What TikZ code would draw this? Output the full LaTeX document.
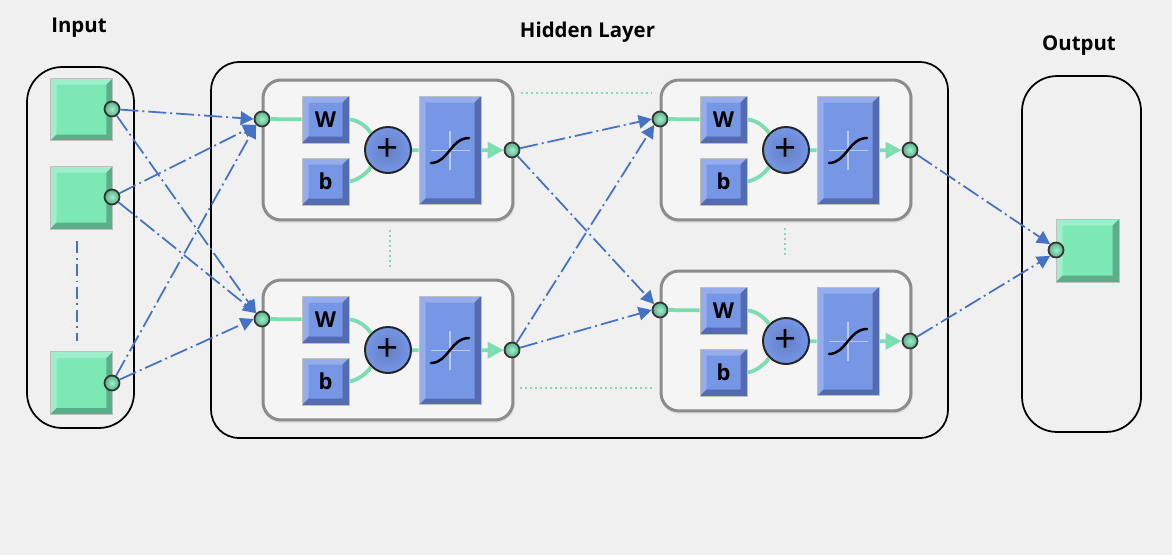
\documentclass[tikz,border=0pt]{standalone}
\usepackage{fontspec}
\setmainfont{Open Sans}
\usetikzlibrary{arrows.meta,shapes.geometric}
\definecolor{bgcol}{HTML}{F0F0F0}
\definecolor{blockcol}{HTML}{F5F5F5}
\definecolor{greenface}{HTML}{7BE8B5}
\definecolor{greenlight}{HTML}{9DF0CB}
\definecolor{greendark}{HTML}{5DAE88}
\definecolor{blueface}{HTML}{7696E6}
\definecolor{bluelight}{HTML}{95ADED}
\definecolor{bluedark}{HTML}{546BB0}
\definecolor{arrowcol}{HTML}{4472C4}
\definecolor{wirecol}{HTML}{7DDDB0}
\tikzset{
  bevelbox/.style n args={4}{inner sep=0pt,draw=black!25,line width=0.02cm,fill=#1,
    path picture={
      \fill[#2] (path picture bounding box.north west) -- (path picture bounding box.north east)
        -- ++(-#4,-#4) -- ([shift={(#4,-#4)}]path picture bounding box.north west)
        -- ([shift={(#4,#4)}]path picture bounding box.south west)
        -- (path picture bounding box.south west) -- cycle;
      \fill[#3] (path picture bounding box.south west) -- (path picture bounding box.south east)
        -- (path picture bounding box.north east)
        -- ++(-#4,-#4) -- ([shift={(-#4,#4)}]path picture bounding box.south east)
        -- ([shift={(#4,#4)}]path picture bounding box.south west) -- cycle;
    }},
  greenbox/.style={bevelbox={greenface}{greenlight}{greendark}{0.13cm},minimum size=1.26cm},
  weightbox/.style={bevelbox={blueface}{bluelight}{bluedark}{0.13cm},minimum size=0.94cm,font=\bfseries\fontsize{12.5}{12.5}\selectfont},
  transferbox/.style={bevelbox={blueface}{bluelight}{bluedark}{0.13cm},minimum width=1.24cm,minimum height=2.18cm},
  sumnode/.style={circle,draw=black!85,line width=0.04cm,inner sep=0pt,minimum size=0.92cm,
    inner color=blueface!85!black,outer color=blueface,font=\fontsize{22}{22}\selectfont},
  port/.style={circle,draw=black!80,line width=0.035cm,inner sep=0pt,minimum size=0.3cm,
    inner color=greenlight,outer color=greendark},
  container/.style={draw=black,line width=0.035cm,rounded corners=0.7cm,inner sep=0pt},
  block/.style={draw=black!45,line width=0.06cm,fill=blockcol,rounded corners=0.36cm,inner sep=0pt,
    minimum width=5cm,minimum height=2.8cm},
  wire/.style={draw=wirecol,line width=0.075cm},
  link/.style={draw=arrowcol,line width=0.035cm,dash pattern=on 0.36cm off 0.08cm on 0.04cm off 0.08cm,
    -{Triangle[length=0.26cm,width=0.27cm]}},
  linkdots/.style={draw=arrowcol,line width=0.04cm,dash pattern=on 0.24cm off 0.09cm on 0.04cm off 0.09cm},
  gapdots/.style={draw=wirecol,line width=0.03cm,dotted},
  heading/.style={font=\bfseries\fontsize{11.6}{13}\selectfont,inner sep=0pt}
}
% one hidden neuron: name, x shift, y shift
\newcommand{\hiddenblock}[3]{
  \begin{scope}[shift={(#2,#3)}]
    \node[draw=black!12,line width=0.06cm,rounded corners=0.36cm,minimum width=5cm,minimum height=2.8cm] at (388.5,151.5) {};
    \node[block] (#1box) at (388,150) {};
    \node[weightbox] (#1w) at (325.5,119.5) {W};
    \node[weightbox] (#1b) at (325.5,181.5) {b};
    \node[sumnode] (#1sum) at (388,150) {+};
    \node[transferbox] (#1f) at (450,150.5) {};
    \draw[blueface!50!white,line width=0.03cm] (431,150.5) -- (470,150.5) (450,131) -- (450,170);
    \draw[black,line width=0.05cm,line cap=round] (431,163) .. controls (448,163) and (451,138) .. (469,138);
    \node[port] (#1in) at (262,119) {};
    \node[port] (#1out) at (512,150) {};
    \draw[wire] (#1in) -- (#1w);
    \draw[wire] (#1w.east) .. controls (358,120) and (366,126) .. (#1sum.135);
    \draw[wire] (#1b.east) .. controls (358,180) and (366,174) .. (#1sum.-135);
    \draw[wire] (#1sum) -- (#1f);
    \draw[wire,-{Triangle[length=0.32cm,width=0.32cm,fill=greenface]}] (#1f) -- (#1out);
  \end{scope}
}
\begin{document}
\begin{tikzpicture}[x=0.02cm,y=-0.02cm]
  \useasboundingbox[fill=bgcol] (0,0) rectangle (1172,555);

  \node[heading] (inputlabel) at (79,28) {Input};
  \node[heading] (hiddenlabel) at (587.5,32) {Hidden Layer};
  \node[heading] (outputlabel) at (1079,46) {Output};

  \node[container,minimum width=2.14cm,minimum height=7.22cm] (inputbox) at (80.5,247.5) {};
  \node[container,rounded corners=0.56cm,minimum width=14.74cm,minimum height=7.52cm] (hiddenbox) at (579.5,250) {};
  \node[container,minimum width=2.38cm,minimum height=7.12cm] (outputbox) at (1081.5,254) {};

  % input layer
  \node[greenbox] (sq1) at (81.5,109.5) {};
  \node[greenbox] (sq2) at (81.5,197.5) {};
  \node[greenbox] (sq3) at (81.5,383) {};
  \node[port] (i1) at (112,109) {};
  \node[port] (i2) at (112,197) {};
  \node[port] (i3) at (112,383) {};
  \coordinate (itop) at (77,241);
  \coordinate (ibot) at (77,341);
  \draw[linkdots] (itop) -- (ibot);

  % hidden layer
  \hiddenblock{ha}{0}{0}
  \hiddenblock{hb}{0}{200}
  \hiddenblock{hc}{398}{0}
  \hiddenblock{hd}{398}{191}

  % output layer
  \node[greenbox] (sqout) at (1087.5,250.5) {};
  \node[port] (o1) at (1056,250) {};

  % dotted gaps
  \coordinate (g1a) at (521,93);
  \coordinate (g1b) at (652,93);
  \coordinate (g2a) at (520,388);
  \coordinate (g2b) at (652,388);
  \coordinate (g3a) at (390,230);
  \coordinate (g3b) at (390,268);
  \coordinate (g4a) at (785,228);
  \coordinate (g4b) at (785,256);
  \draw[gapdots] (g1a) -- (g1b);
  \draw[gapdots] (g2a) -- (g2b);
  \draw[gapdots] (g3a) -- (g3b);
  \draw[gapdots] (g4a) -- (g4b);

  % connections
  \draw[link] (i1) -- (hain.west);
  \draw[link] (i1) -- (hbin.north west);
  \draw[link] (i2) -- (hain.south west);
  \draw[link] (i2) -- (hbin.north west);
  \draw[link] (i3) -- (hain.south west);
  \draw[link] (i3) -- (hbin.west);
  \draw[link] (haout) -- (hcin.west);
  \draw[link] (haout) -- (hdin.north west);
  \draw[link] (hbout) -- (hcin.south west);
  \draw[link] (hbout) -- (hdin.west);
  \draw[link] (hcout) -- (o1.north west);
  \draw[link] (hdout) -- (o1.south west);
\end{tikzpicture}
\end{document}
